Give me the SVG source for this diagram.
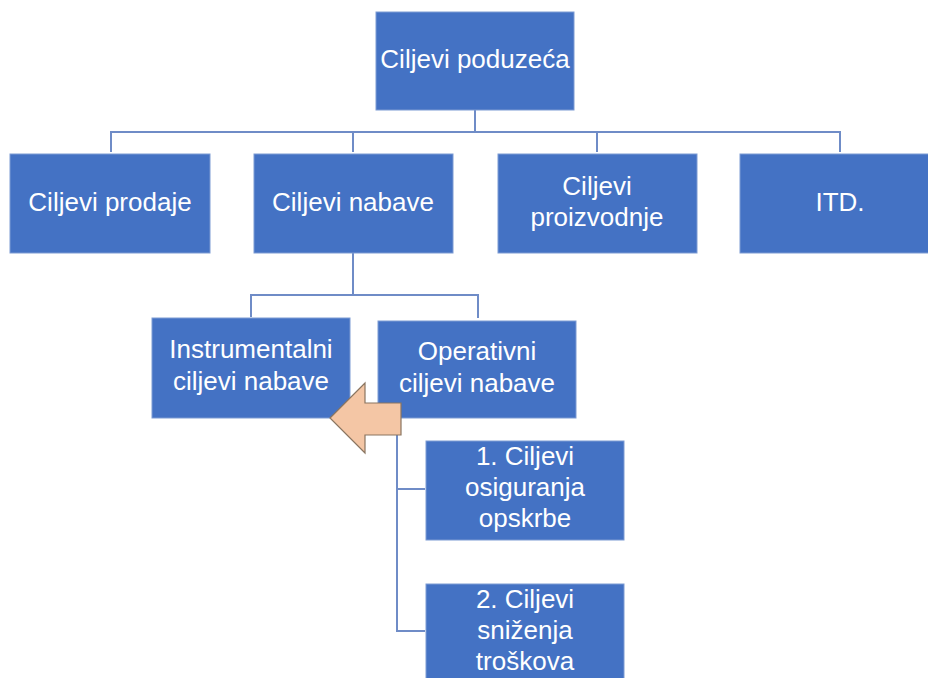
<svg xmlns="http://www.w3.org/2000/svg" width="928" height="678" viewBox="0 0 928 678">
<style>
.box{fill:#4472C4;stroke:#7d9bd3;stroke-width:1}
.t{fill:#ffffff;font-family:"Liberation Sans",Arial,sans-serif;font-size:26px;text-anchor:middle}
.ln{fill:none;stroke:#6f8cc7;stroke-width:2}
</style>
<rect width="928" height="678" fill="#ffffff"/>
<g id="connectors">
<path class="ln" d="M475,110 V132 M111,152 V132 H840 V152 M353,132 V152 M597,132 V152"/>
<path class="ln" d="M353,253 V295 M251,317 V295 H478 V318"/>
<path class="ln" d="M397,418 V631 H425 M397,489 H425"/>
</g>
<g id="n-poduzeca"><rect class="box" x="376" y="12" width="198" height="98"/><text class="t" x="475" y="68">Ciljevi poduzeća</text></g>
<g id="n-prodaje"><rect class="box" x="10" y="154" width="200" height="99"/><text class="t" x="110" y="211">Ciljevi prodaje</text></g>
<g id="n-nabave"><rect class="box" x="254" y="154" width="199" height="99"/><text class="t" x="353" y="211">Ciljevi nabave</text></g>
<g id="n-proizvodnje"><rect class="box" x="498" y="154" width="199" height="99"/><text class="t" x="597" y="195">Ciljevi</text><text class="t" x="597" y="226">proizvodnje</text></g>
<g id="n-itd"><rect class="box" x="740" y="154" width="200" height="99"/><text class="t" x="840" y="211">ITD.</text></g>
<g id="n-instrumentalni"><rect class="box" x="152" y="318" width="198" height="100"/><text class="t" x="251" y="358">Instrumentalni</text><text class="t" x="251" y="390">ciljevi nabave</text></g>
<g id="n-operativni"><rect class="box" x="378" y="321" width="198" height="97"/><text class="t" x="477" y="360">Operativni</text><text class="t" x="477" y="392">ciljevi nabave</text></g>
<g id="arrow"><path d="M330,418 L365,383 V403 H401 V435 H365 V453 Z" fill="#F4C6A5" stroke="#8a7560" stroke-width="1.2"/></g>
<g id="n-osiguranja"><rect class="box" x="426" y="441" width="198" height="99"/><text class="t" x="525" y="465">1. Ciljevi</text><text class="t" x="525" y="496">osiguranja</text><text class="t" x="525" y="527">opskrbe</text></g>
<g id="n-snizenja"><rect class="box" x="426" y="584" width="198" height="100"/><text class="t" x="525" y="608">2. Ciljevi</text><text class="t" x="525" y="639">sniženja</text><text class="t" x="525" y="670">troškova</text></g>
</svg>
